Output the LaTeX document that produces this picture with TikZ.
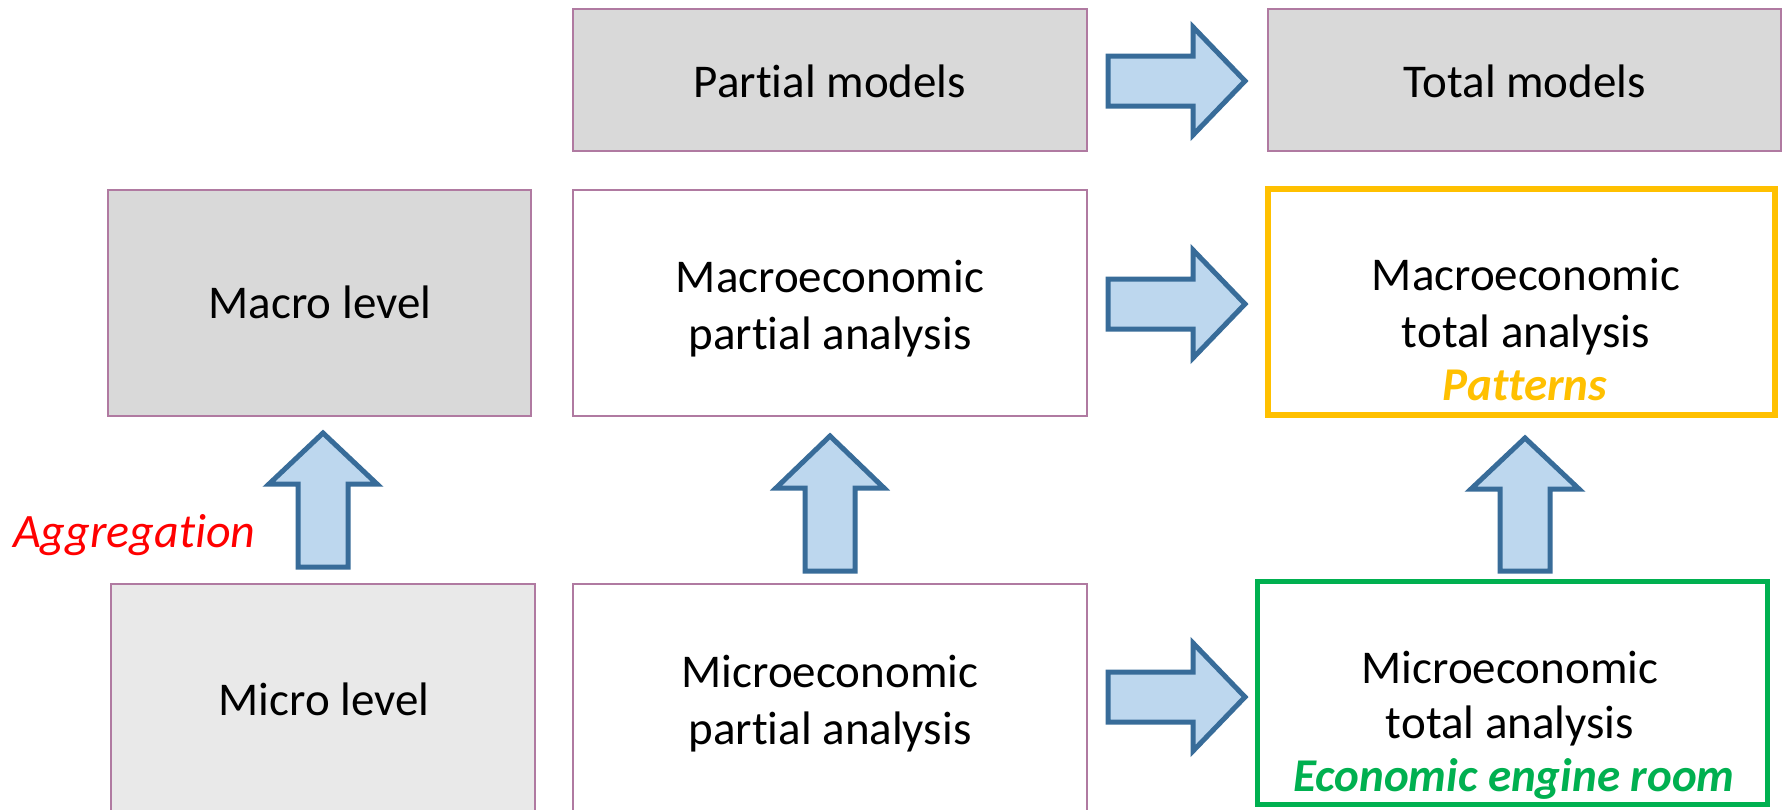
\documentclass[tikz,border=0pt]{standalone}
\usepackage{fontspec}
\setmainfont{Carlito}[Ligatures=CommonOff]

\definecolor{boxline}{HTML}{B07AA1}
\definecolor{greyfill}{HTML}{D9D9D9}
\definecolor{lightfill}{HTML}{E9E9E9}
\definecolor{arrowfill}{HTML}{BDD7EE}
\definecolor{arrowline}{HTML}{386C99}
\definecolor{gold}{HTML}{FFC000}
\definecolor{engine}{HTML}{00B050}
\definecolor{aggred}{HTML}{FF0000}

% block arrow pointing right: centre line y
\newcommand\blockright[1]{%
  \draw[blockarrow] (1108,#1-25) -- (1193,#1-25) -- (1193,#1-54) -- (1245,#1)
    -- (1193,#1+54) -- (1193,#1+25) -- (1108,#1+25) -- cycle;}
% block arrow pointing up: centre x, bottom, head base, tip
\newcommand\blockup[4]{%
  \draw[blockarrow] (#1-25,#2) -- (#1-25,#3) -- (#1-54,#3) -- (#1,#4)
    -- (#1+54,#3) -- (#1+25,#3) -- (#1+25,#2) -- cycle;}

\begin{document}
\begin{tikzpicture}[x=1pt,y=-1pt,
  frame/.style={draw=boxline, line width=1.5pt, inner sep=0pt, outer sep=0pt},
  txt/.style={font=\fontsize{47}{54}\selectfont, inner sep=0pt, anchor=base},
  blockarrow/.style={draw=arrowline, fill=arrowfill, line width=5pt, line join=miter}]

\useasboundingbox[fill=white] (0,0) rectangle (1783,809);

% top row
\node[frame, fill=greyfill, minimum width=514pt, minimum height=142pt] (pm) at (830,80) {};
\node[frame, fill=greyfill, minimum width=513pt, minimum height=142pt] (tm) at (1524.5,80) {};

% middle row
\node[frame, fill=greyfill, minimum width=423pt, minimum height=226pt] (ml) at (319.5,303) {};
\node[frame, fill=white, minimum width=514pt, minimum height=226pt] (mpa) at (830,303) {};
\node[frame, draw=gold, line width=5.5pt, minimum width=507pt, minimum height=226pt] (mta) at (1521.5,302) {};

% bottom row
\node[frame, fill=lightfill, minimum width=424pt, minimum height=246pt] (mil) at (323,707) {};
\node[frame, fill=white, minimum width=514pt, minimum height=246pt] (mipa) at (830,707) {};
\node[frame, draw=engine, line width=5pt, minimum width=510pt, minimum height=223pt] (mita) at (1512,692.5) {};

% arrows
\blockright{81}
\blockright{304}
\blockright{697}
\blockup{323}{567}{484}{433}
\blockup{830}{571}{488}{436}
\blockup{1525}{571}{489}{438}

% texts
\node[txt] (tpm) at (830,97) {Partial models};
\node[txt] (ttm) at (1525,97) {Total models};

\node[txt] (tml) at (320,318) {Macro level};
\node[txt] (tmpa1) at (830,292) {Macroeconomic};
\node[txt] (tmpa2) at (830,349) {partial analysis};
\node[txt] (tmta1) at (1526,290) {Macroeconomic};
\node[txt] (tmta2) at (1526,347) {total analysis};
\node[txt, text=gold, font=\fontsize{47}{54}\selectfont\bfseries\itshape] (tmta3) at (1525,400) {Patterns};

\node[txt, anchor=base west, text=aggred, font=\fontsize{48}{54}\selectfont\itshape] (agg) at (13,547) {Aggregation};

\node[txt] (tmil) at (324,715) {Micro level};
\node[txt] (tmipa1) at (830,687) {Microeconomic};
\node[txt] (tmipa2) at (830,744) {partial analysis};
\node[txt] (tmita1) at (1510,683) {Microeconomic};
\node[txt] (tmita2) at (1510,738) {total analysis};
\node[txt, text=engine, font=\fontsize{47}{54}\selectfont\bfseries\itshape] (tmita3) at (1514,791) {Economic engine room};

\end{tikzpicture}
\end{document}
